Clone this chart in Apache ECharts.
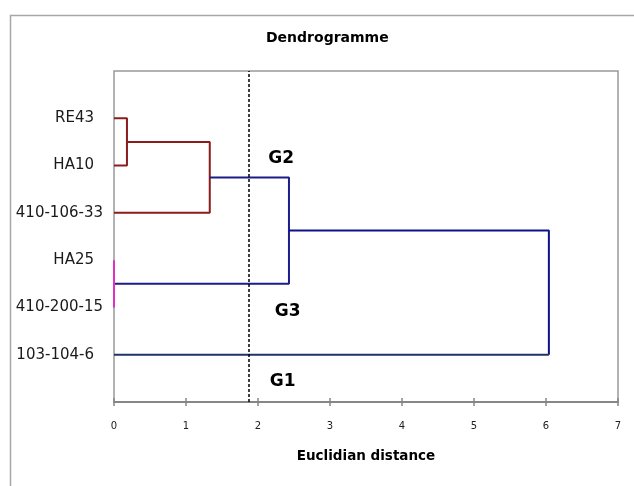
<!DOCTYPE html>
<html>
<head>
<meta charset="utf-8">
<script src="https://cdn.jsdelivr.net/npm/echarts@6/dist/echarts.min.js"></script>
<style>html,body{margin:0;padding:0;background:#fff;}#c{width:634px;height:486px;}</style>
</head>
<body>
<div id="c"></div>
<script>
// Leaves, bottom to top (y positions 1..6)
const leafNames = ['103-104-6', '410-200-15', 'HA25', '410-106-33', 'HA10', 'RE43'];
const xTicks = [0, 1, 2, 3, 4, 5, 6, 7];
// Dendrogram branches as [distance, leaf position] points
const branchRE43HA10 = [[0, 6], [0.18, 6], [0.18, 5], [0, 5]];
const branchG2 = [[0.18, 5.5], [1.33, 5.5], [1.33, 4], [0, 4]];
const branchHA25 = [[0, 3], [0, 2]];
const branchG2G3 = [[1.33, 4.75], [2.43, 4.75], [2.43, 2.5], [0, 2.5]];
const branchRootTop = [[2.43, 3.625], [6.04, 3.625], [6.04, 1]];
const branchRootBottom = [[6.04, 1], [0, 1]];
const cutDistance = 1.875;
const cutLine = [[cutDistance, 0], [cutDistance, 7]];
// Group labels
const groupNames = ['G2', 'G3', 'G1'];
const groupX = [2.33, 2.42, 2.35];
const groupY = [5.14, 1.9, 0.42];

const FONT = 'DejaVu Sans';
const chart = echarts.init(document.getElementById('c'), null, {renderer: 'canvas'});

function seg(data, color, width, type) {
  return {
    type: 'line', data: data, showSymbol: false, symbol: 'none', clip: false,
    animation: false, silent: true, z: 3,
    lineStyle: {color: color, width: width, type: type || 'solid'}
  };
}

chart.setOption({
  animation: false,
  backgroundColor: '#fff',
  title: {
    text: 'Dendrogramme', left: 266, top: 31, padding: 0,
    textStyle: {fontFamily: FONT, fontSize: 14, fontWeight: 'bold', color: '#000'}
  },
  graphic: [{
    type: 'rect', left: 8, top: 13, z: -1,
    shape: {width: 700, height: 600},
    style: {fill: 'none', stroke: '#a6a6a6', lineWidth: 1.5}
  }],
  grid: {
    left: 114, right: 16, top: 71, bottom: 84,
    show: true, borderColor: '#999', borderWidth: 1.5, backgroundColor: 'transparent'
  },
  xAxis: [{
    type: 'value', min: 0, max: 7, interval: 1,
    name: 'Euclidian distance', nameLocation: 'middle', nameGap: 47,
    nameTextStyle: {fontFamily: FONT, fontSize: 13.5, fontWeight: 'bold', color: '#000'},
    axisLine: {show: true, lineStyle: {color: '#868686', width: 2}},
    axisTick: {show: true, inside: false, length: 4, lineStyle: {color: '#868686', width: 1.5}},
    axisLabel: {margin: 19, fontFamily: FONT, fontSize: 10, color: '#222',
      formatter: function (v) { return xTicks.indexOf(v) >= 0 ? String(v) : ''; }},
    splitLine: {show: false}
  }, {
    type: 'value', min: 0, max: 7, interval: 1, position: 'bottom',
    axisLine: {show: false},
    axisTick: {show: true, inside: true, length: 4, lineStyle: {color: '#868686', width: 1.5}},
    axisLabel: {show: false}, splitLine: {show: false}
  }],
  yAxis: {
    type: 'value', min: 0, max: 7, interval: 1,
    axisLine: {show: false}, axisTick: {show: false}, splitLine: {show: false},
    axisLabel: {
      margin: 11, align: 'right', fontFamily: FONT, fontSize: 15, color: '#1a1a1a',
      formatter: function (v) {
        const name = leafNames[v - 1];
        if (!name) return '';
        return name.length > 9 ? '{l|' + name + '}' : '{s|' + name + '}';
      },
      rich: {
        l: {fontFamily: FONT, fontSize: 15, color: '#1a1a1a'},
        s: {fontFamily: FONT, fontSize: 15, color: '#1a1a1a', padding: [0, 9, 0, 0]}
      }
    }
  },
  series: [
    seg(branchRE43HA10, '#8b1c1c', 2),
    seg(branchG2, '#8b1c1c', 2),
    seg(branchG2G3, '#1c1c8a', 2),
    seg(branchHA25, '#e030c8', 2),
    seg(branchRootTop, '#10108a', 2),
    seg(branchRootBottom, '#1f3466', 2),
    Object.assign(seg(cutLine, '#000', 1.5, [3, 2]), {z: 4}),
    {
      type: 'scatter', symbolSize: 1, silent: true, z: 5,
      itemStyle: {opacity: 0},
      data: groupNames.map(function (n, i) { return {name: n, value: [groupX[i], groupY[i]]}; }),
      label: {show: true, position: [0, 0], align: 'center', verticalAlign: 'middle',
        formatter: '{b}', opacity: 1, textBorderWidth: 0,
        fontFamily: FONT, fontSize: 17, fontWeight: 'bold', color: '#000'}
    }
  ]
});
</script>
</body>
</html>
